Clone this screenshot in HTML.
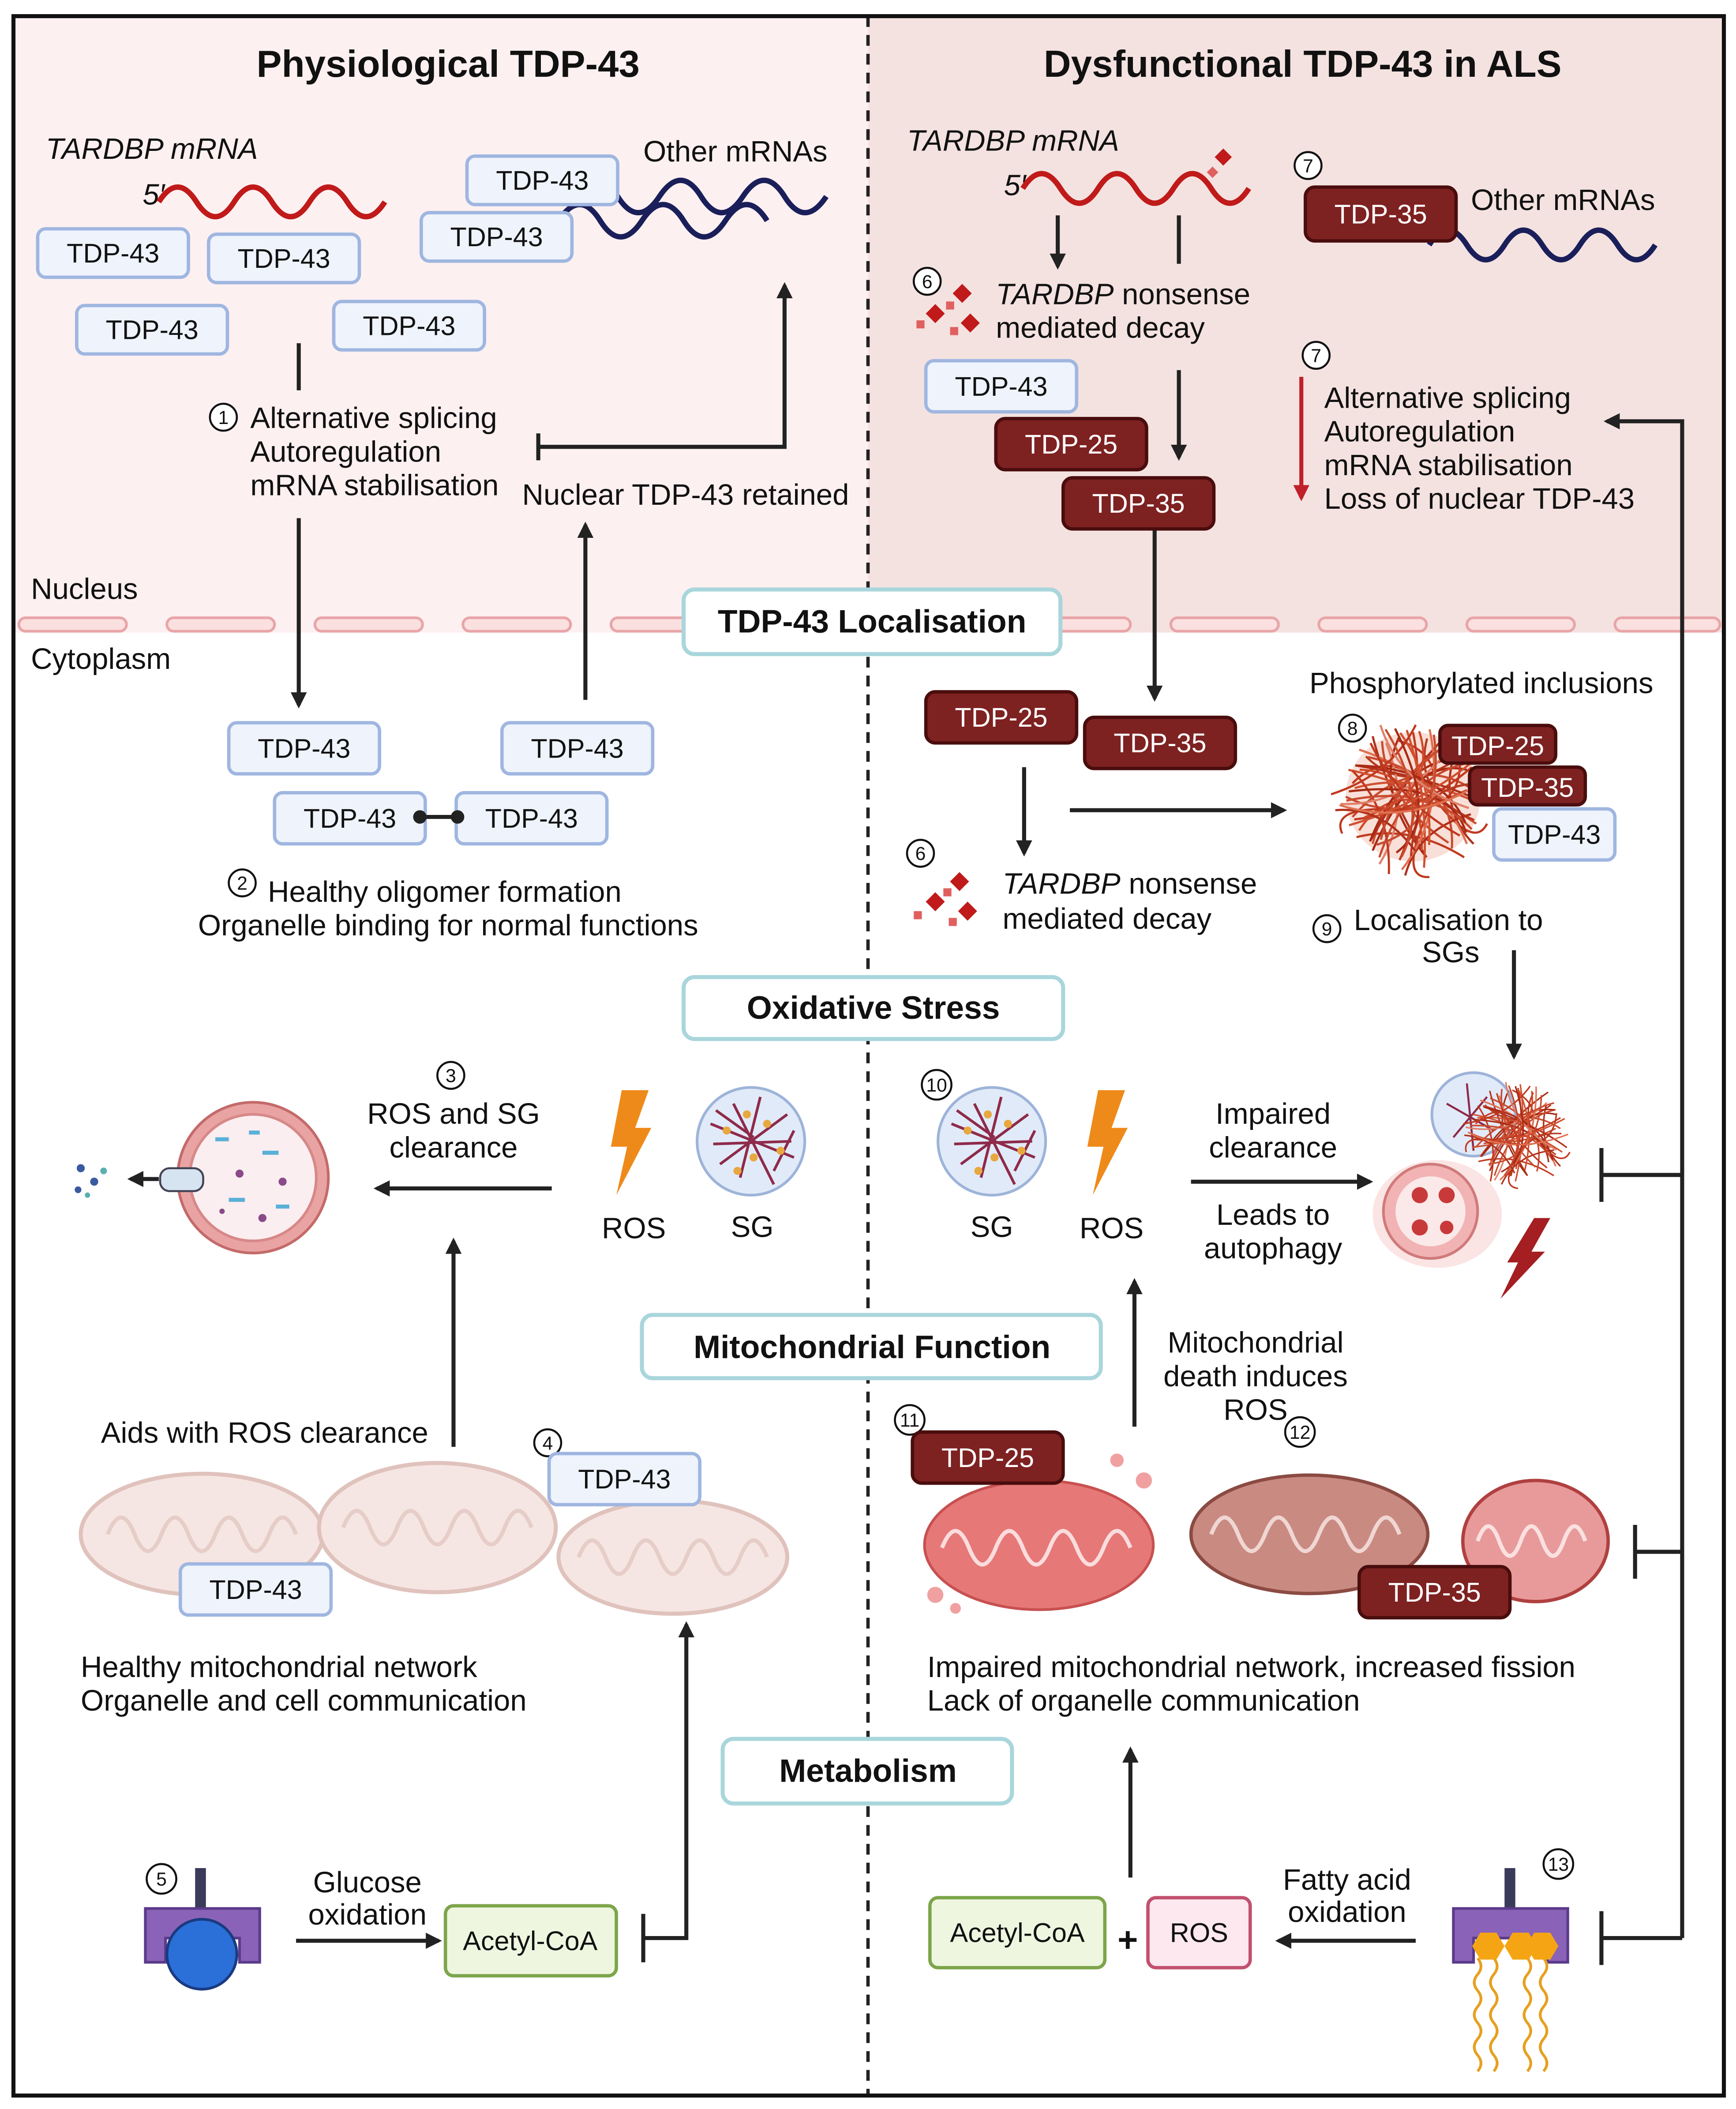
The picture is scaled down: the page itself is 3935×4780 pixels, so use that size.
<!DOCTYPE html>
<html><head><meta charset="utf-8"><style>
html,body{margin:0;padding:0;background:#fff}
svg{display:block}
text{font-family:"Liberation Sans",sans-serif;fill:#111}
.t{font-size:22px}
.h{font-size:28px;font-weight:bold}
.s{font-size:24px;font-weight:bold}
.lb{fill:#eef3fc;stroke:#9fb6e0;stroke-width:2.5}
.db{fill:#7e2121;stroke:#4a0d0d;stroke-width:2.5}
.wt{fill:#fff;font-size:20px}
.bt{font-size:20px}
.sec{fill:#fff;stroke:#a9d6dc;stroke-width:3}
.ln{stroke:#222;stroke-width:3;fill:none}
.num{fill:#fff;stroke:#111;stroke-width:1.5}
.nt{font-size:14px}
</style></head><body>
<svg width="3935" height="4780" viewBox="0 0 1290 1567" preserveAspectRatio="none" xmlns="http://www.w3.org/2000/svg">
<defs>
<marker id="a" viewBox="0 0 10 10" refX="8" refY="5" markerWidth="4" markerHeight="4" orient="auto-start-reverse"><path d="M0,0L10,5L0,10z" fill="#222"/></marker>
<marker id="ar" viewBox="0 0 10 10" refX="8" refY="5" markerWidth="4" markerHeight="4" orient="auto"><path d="M0,0L10,5L0,10z" fill="#c0202a"/></marker>
<g id="tangle" fill="none" stroke-width="1.6">
<path d="M-45,-10 q30,-30 60,10 t40,20" stroke="#c0391f"/><path d="M-40,25 q25,-40 75,-10" stroke="#d04a2a"/><path d="M-30,-45 q10,40 40,90" stroke="#b0301a"/><path d="M-50,0 q40,20 90,-5" stroke="#c84a2e"/><path d="M-10,-45 q-20,40 20,90" stroke="#a82a14"/><path d="M20,-35 q-40,30 -50,70" stroke="#d05030"/>
<path d="M-35,-30 q30,30 70,0" stroke="#b83a20"/><path d="M-42,30 q40,-10 80,15" stroke="#c0391f"/><path d="M-20,-40 q20,50 -5,90" stroke="#e0806a"/><path d="M-45,15 q45,-50 90,-20" stroke="#c84a2e"/><path d="M-30,40 q30,-70 70,-60" stroke="#a82a14"/><path d="M-48,-20 q50,10 95,40" stroke="#d05030"/><path d="M0,-48 q10,50 -10,95" stroke="#c0391f"/><path d="M30,-30 q-10,40 15,65" stroke="#b0301a"/><path d="M-40,-35 q60,20 80,70" stroke="#e07050"/><path d="M-25,45 q20,-60 65,-70" stroke="#c84a2e"/>
</g>
</defs>
<rect x="0" y="0" width="1290" height="1567" fill="#fff"/>
<rect x="10" y="12" width="635" height="458" fill="#fdf0f1"/>
<rect x="645" y="12" width="636" height="458" fill="#f4e2e0"/>
<g fill="#fbe0e0" stroke="#e8a5a8" stroke-width="2">
<rect x="14" y="459" width="80" height="10" rx="5"/><rect x="124" y="459" width="80" height="10" rx="5"/><rect x="234" y="459" width="80" height="10" rx="5"/><rect x="344" y="459" width="80" height="10" rx="5"/><rect x="454" y="459" width="80" height="10" rx="5"/>
<rect x="760" y="459" width="80" height="10" rx="5"/><rect x="870" y="459" width="80" height="10" rx="5"/><rect x="980" y="459" width="80" height="10" rx="5"/><rect x="1090" y="459" width="80" height="10" rx="5"/><rect x="1200" y="459" width="78" height="10" rx="5"/>
</g>
<line x1="645" y1="12" x2="645" y2="1557" stroke="#222" stroke-width="2.5" stroke-dasharray="8,6"/>
<rect x="10" y="12" width="1271" height="1545" fill="none" stroke="#111" stroke-width="3"/>

<text class="h" x="333" y="57" text-anchor="middle">Physiological TDP-43</text>
<text class="h" x="968" y="57" text-anchor="middle">Dysfunctional TDP-43 in ALS</text>

<text class="t" x="34" y="118" font-style="italic">TARDBP mRNA</text>
<text class="t" x="106" y="152" font-style="italic">5′</text>
<path d="M118,150 q14,-22 28,0 t28,0 t28,0 t28,0 t28,0 t28,0" stroke="#c01a1a" stroke-width="4" fill="none"/>
<path d="M428,146 q16,-24 31,0 t31,0 t31,0 t31,0 t31,0 t31,0" stroke="#1a1f5a" stroke-width="4" fill="none"/>
<path d="M415,164 q16,-24 31,0 t31,0 t31,0 t31,0 t31,0" stroke="#1a1f5a" stroke-width="4" fill="none"/>
<text class="t" x="478" y="120">Other mRNAs</text>
<rect class="lb" x="347" y="116" width="112" height="36" rx="6"/><text class="bt" x="403" y="141" text-anchor="middle">TDP-43</text>
<rect class="lb" x="313" y="158" width="112" height="36" rx="6"/><text class="bt" x="369" y="183" text-anchor="middle">TDP-43</text>
<rect class="lb" x="28" y="170" width="112" height="36" rx="6"/><text class="bt" x="84" y="195" text-anchor="middle">TDP-43</text>
<rect class="lb" x="155" y="174" width="112" height="36" rx="6"/><text class="bt" x="211" y="199" text-anchor="middle">TDP-43</text>
<rect class="lb" x="57" y="227" width="112" height="36" rx="6"/><text class="bt" x="113" y="252" text-anchor="middle">TDP-43</text>
<rect class="lb" x="248" y="224" width="112" height="36" rx="6"/><text class="bt" x="304" y="249" text-anchor="middle">TDP-43</text>
<line class="ln" x1="222" y1="255" x2="222" y2="290"/>
<circle class="num" cx="166" cy="310" r="10"/><text class="nt" x="166" y="315" text-anchor="middle">1</text>
<text class="t" x="186" y="318">Alternative splicing</text>
<text class="t" x="186" y="343">Autoregulation</text>
<text class="t" x="186" y="368">mRNA stabilisation</text>
<path class="ln" d="M400,332 H583 V212" marker-end="url(#a)"/>
<line class="ln" x1="400" y1="322" x2="400" y2="342"/>
<text class="t" x="388" y="375">Nuclear TDP-43 retained</text>
<line class="ln" x1="435" y1="520" x2="435" y2="390" marker-end="url(#a)"/>
<line class="ln" x1="222" y1="385" x2="222" y2="524" marker-end="url(#a)"/>
<text class="t" x="23" y="445">Nucleus</text>
<text class="t" x="23" y="497">Cytoplasm</text>
<rect class="sec" x="508" y="438" width="280" height="48" rx="8"/><text class="s" x="648" y="470" text-anchor="middle">TDP-43 Localisation</text>

<rect class="lb" x="170" y="537" width="112" height="38" rx="6"/><text class="bt" x="226" y="563" text-anchor="middle">TDP-43</text>
<rect class="lb" x="373" y="537" width="112" height="38" rx="6"/><text class="bt" x="429" y="563" text-anchor="middle">TDP-43</text>
<rect class="lb" x="204" y="589" width="112" height="38" rx="6"/><text class="bt" x="260" y="615" text-anchor="middle">TDP-43</text>
<rect class="lb" x="339" y="589" width="112" height="38" rx="6"/><text class="bt" x="395" y="615" text-anchor="middle">TDP-43</text>
<line class="ln" x1="312" y1="607" x2="340" y2="607"/><circle cx="312" cy="607" r="5" fill="#222"/><circle cx="340" cy="607" r="5" fill="#222"/>
<circle class="num" cx="180" cy="656" r="10"/><text class="nt" x="180" y="661" text-anchor="middle">2</text>
<text class="t" x="199" y="670">Healthy oligomer formation</text>
<text class="t" x="333" y="695" text-anchor="middle">Organelle binding for normal functions</text>

<text class="t" x="674" y="112" font-style="italic">TARDBP mRNA</text>
<text class="t" x="746" y="145" font-style="italic">5′</text>
<path d="M760,140 q14,-22 28,0 t28,0 t28,0 t28,0 t28,0 t28,0" stroke="#c01a1a" stroke-width="4" fill="none"/>
<rect x="905" y="112" width="9" height="9" fill="#c01a1a" transform="rotate(45 909 116)"/><rect x="898" y="125" width="6" height="6" fill="#e06060" transform="rotate(45 901 128)"/>
<line class="ln" x1="786" y1="160" x2="786" y2="198" marker-end="url(#a)"/>
<line class="ln" x1="876" y1="160" x2="876" y2="196"/>
<circle class="num" cx="689" cy="209" r="10"/><text class="nt" x="689" y="214" text-anchor="middle">6</text>
<g fill="#c01a1a"><rect x="710" y="213" width="10" height="10" transform="rotate(45 715 218)"/><rect x="690" y="228" width="10" height="10" transform="rotate(45 695 233)"/><rect x="716" y="235" width="10" height="10" transform="rotate(45 721 240)"/><rect x="681" y="238" width="6" height="6" fill="#e06060"/><rect x="703" y="224" width="6" height="6" fill="#e06060"/><rect x="706" y="243" width="6" height="6" fill="#e06060"/></g>
<text class="t" x="740" y="226"><tspan font-style="italic">TARDBP</tspan> nonsense</text>
<text class="t" x="740" y="251">mediated decay</text>
<circle class="num" cx="972" cy="123" r="10"/><text class="nt" x="972" y="128" text-anchor="middle">7</text>
<path d="M1062,182 q14,-22 28,0 t28,0 t28,0 t28,0 t28,0 t28,0" stroke="#1a1f5a" stroke-width="4" fill="none"/>
<rect class="db" x="970" y="139" width="112" height="40" rx="7"/><text class="wt" x="1026" y="166" text-anchor="middle">TDP-35</text>
<text class="t" x="1093" y="156">Other mRNAs</text>
<rect class="lb" x="688" y="268" width="112" height="38" rx="6"/><text class="bt" x="744" y="294" text-anchor="middle">TDP-43</text>
<rect class="db" x="740" y="311" width="112" height="38" rx="7"/><text class="wt" x="796" y="337" text-anchor="middle">TDP-25</text>
<rect class="db" x="790" y="355" width="112" height="38" rx="7"/><text class="wt" x="846" y="381" text-anchor="middle">TDP-35</text>
<line class="ln" x1="876" y1="275" x2="876" y2="340" marker-end="url(#a)"/>
<line class="ln" x1="858" y1="394" x2="858" y2="519" marker-end="url(#a)"/>
<circle class="num" cx="978" cy="264" r="10"/><text class="nt" x="978" y="269" text-anchor="middle">7</text>
<line x1="967" y1="280" x2="967" y2="370" stroke="#c0202a" stroke-width="3" marker-end="url(#ar)"/>
<text class="t" x="984" y="303">Alternative splicing</text>
<text class="t" x="984" y="328">Autoregulation</text>
<text class="t" x="984" y="353">mRNA stabilisation</text>
<text class="t" x="984" y="378">Loss of nuclear TDP-43</text>
<path class="ln" d="M1250,1440 V313 H1194" marker-end="url(#a)"/>
<line class="ln" x1="1250" y1="873" x2="1190" y2="873"/><line class="ln" x1="1190" y1="853" x2="1190" y2="893"/>
<line class="ln" x1="1250" y1="1153" x2="1215" y2="1153"/><line class="ln" x1="1215" y1="1133" x2="1215" y2="1173"/>
<line class="ln" x1="1250" y1="1440" x2="1190" y2="1440"/><line class="ln" x1="1190" y1="1420" x2="1190" y2="1460"/>

<rect class="db" x="688" y="514" width="112" height="38" rx="7"/><text class="wt" x="744" y="540" text-anchor="middle">TDP-25</text>
<rect class="db" x="806" y="533" width="112" height="38" rx="7"/><text class="wt" x="862" y="559" text-anchor="middle">TDP-35</text>
<line class="ln" x1="761" y1="570" x2="761" y2="634" marker-end="url(#a)"/>
<line class="ln" x1="795" y1="602" x2="954" y2="602" marker-end="url(#a)"/>
<circle class="num" cx="684" cy="634" r="10"/><text class="nt" x="684" y="639" text-anchor="middle">6</text>
<g fill="#c01a1a"><rect x="708" y="650" width="10" height="10" transform="rotate(45 713 655)"/><rect x="690" y="665" width="10" height="10" transform="rotate(45 695 670)"/><rect x="714" y="672" width="10" height="10" transform="rotate(45 719 677)"/><rect x="679" y="677" width="6" height="6" fill="#e06060"/><rect x="701" y="660" width="6" height="6" fill="#e06060"/><rect x="705" y="682" width="6" height="6" fill="#e06060"/></g>
<text class="t" x="745" y="664"><tspan font-style="italic">TARDBP</tspan> nonsense</text>
<text class="t" x="745" y="690">mediated decay</text>
<text class="t" x="973" y="515">Phosphorylated inclusions</text>
<ellipse cx="1050" cy="592" rx="50" ry="48" fill="#f3c9bc" opacity="0.6"/>
<use href="#tangle" x="1050" y="592"/>
<use href="#tangle" x="1052" y="594" transform="rotate(60 1052 594)"/>
<use href="#tangle" x="1048" y="590" transform="rotate(130 1048 590)"/>
<circle class="num" cx="1005" cy="541" r="10"/><text class="nt" x="1005" y="546" text-anchor="middle">8</text>
<rect class="db" x="1070" y="539" width="86" height="28" rx="6"/><text class="wt" x="1113" y="561" text-anchor="middle">TDP-25</text>
<rect class="db" x="1092" y="570" width="86" height="28" rx="6"/><text class="wt" x="1135" y="592" text-anchor="middle">TDP-35</text>
<rect class="lb" x="1110" y="601" width="90" height="38" rx="6"/><text class="bt" x="1155" y="627" text-anchor="middle">TDP-43</text>
<circle class="num" cx="986" cy="690" r="10"/><text class="nt" x="986" y="695" text-anchor="middle">9</text>
<text class="t" x="1006" y="691">Localisation to</text>
<text class="t" x="1078" y="715" text-anchor="middle">SGs</text>
<line class="ln" x1="1125" y1="706" x2="1125" y2="785" marker-end="url(#a)"/>

<rect class="sec" x="508" y="726" width="282" height="46" rx="8"/><text class="s" x="649" y="757" text-anchor="middle">Oxidative Stress</text>

<circle class="num" cx="335" cy="799" r="10"/><text class="nt" x="335" y="804" text-anchor="middle">3</text>
<text class="t" x="337" y="835" text-anchor="middle">ROS and SG</text>
<text class="t" x="337" y="860" text-anchor="middle">clearance</text>
<line class="ln" x1="410" y1="883" x2="280" y2="883" marker-end="url(#a)"/>
<path d="M462,810 L482,810 L472,838 L484,838 L458,888 L466,852 L454,852 Z" fill="#ee8a1a"/>
<text class="t" x="471" y="920" text-anchor="middle">ROS</text>
<circle cx="558" cy="848" r="40" fill="#e1eaf8" stroke="#9db3d9" stroke-width="2"/>
<g stroke="#8e2a4a" stroke-width="2" fill="none"><path d="M528,835 L590,860 M535,865 L585,828 M545,820 L575,880 M530,850 L588,848 M550,875 L565,815 M532,825 L560,845 M575,870 L590,840"/></g>
<g fill="#e8a840"><circle cx="540" cy="840" r="3"/><circle cx="570" cy="835" r="3"/><circle cx="560" cy="860" r="3"/><circle cx="548" cy="870" r="3"/><circle cx="580" cy="855" r="3"/><circle cx="555" cy="828" r="3"/></g>
<text class="t" x="559" y="919" text-anchor="middle">SG</text>
<circle cx="188" cy="875" r="56" fill="#e9a3a3" stroke="#c46a6a" stroke-width="2"/>
<circle cx="188" cy="875" r="47" fill="#fbeef0" stroke="#d78888" stroke-width="2"/>
<g fill="#5ab0d8"><rect x="160" y="845" width="10" height="3"/><rect x="195" y="855" width="12" height="3"/><rect x="170" y="890" width="12" height="3"/><rect x="205" y="895" width="10" height="3"/><rect x="185" y="840" width="8" height="3"/></g>
<g fill="#8a4a8a"><circle cx="178" cy="872" r="3"/><circle cx="210" cy="878" r="3"/><circle cx="195" cy="905" r="3"/><circle cx="165" cy="900" r="2"/></g>
<rect x="119" y="868" width="32" height="17" rx="7" fill="#d6e4f2" stroke="#445" stroke-width="1.5"/>
<line class="ln" x1="118" y1="876" x2="97" y2="876" marker-end="url(#a)"/>
<g fill="#3a5aa0"><circle cx="60" cy="868" r="3"/><circle cx="70" cy="878" r="3"/><circle cx="58" cy="884" r="2.5"/><circle cx="77" cy="870" r="2.5" fill="#5ab0b0"/><circle cx="65" cy="888" r="2" fill="#5ab0b0"/></g>
<line class="ln" x1="337" y1="1075" x2="337" y2="922" marker-end="url(#a)"/>

<circle class="num" cx="696" cy="806" r="11"/><text class="nt" x="696" y="811" text-anchor="middle">10</text>
<circle cx="737" cy="848" r="40" fill="#e1eaf8" stroke="#9db3d9" stroke-width="2"/>
<g stroke="#8e2a4a" stroke-width="2" fill="none"><path d="M707,835 L769,860 M714,865 L764,828 M724,820 L754,880 M709,850 L767,848 M729,875 L744,815 M711,825 L739,845 M754,870 L769,840"/></g>
<g fill="#e8a840"><circle cx="719" cy="840" r="3"/><circle cx="749" cy="835" r="3"/><circle cx="739" cy="860" r="3"/><circle cx="727" cy="870" r="3"/><circle cx="759" cy="855" r="3"/><circle cx="734" cy="828" r="3"/></g>
<text class="t" x="737" y="919" text-anchor="middle">SG</text>
<path d="M816,810 L836,810 L826,838 L838,838 L812,888 L820,852 L808,852 Z" fill="#ee8a1a"/>
<text class="t" x="826" y="920" text-anchor="middle">ROS</text>
<text class="t" x="946" y="835" text-anchor="middle">Impaired</text>
<text class="t" x="946" y="860" text-anchor="middle">clearance</text>
<line class="ln" x1="885" y1="878" x2="1018" y2="878" marker-end="url(#a)"/>
<text class="t" x="946" y="910" text-anchor="middle">Leads to</text>
<text class="t" x="946" y="935" text-anchor="middle">autophagy</text>
<circle cx="1095" cy="828" r="31" fill="#e1eaf8" stroke="#9db3d9" stroke-width="2"/>
<g stroke="#8e2a4a" stroke-width="1.5" fill="none"><path d="M1075,820 L1110,840 M1080,845 L1105,815 M1090,805 L1095,855"/></g>
<g transform="translate(1128 842) scale(0.7)"><use href="#tangle"/><use href="#tangle" transform="rotate(70)"/><use href="#tangle" transform="rotate(140)"/></g>
<ellipse cx="1068" cy="902" rx="48" ry="40" fill="#fbe4e4"/>
<circle cx="1063" cy="900" r="35" fill="#f1b3b3" stroke="#d07a7a" stroke-width="2"/>
<circle cx="1063" cy="900" r="26" fill="#fbe8e8"/>
<g fill="#c83a3a"><circle cx="1055" cy="888" r="6"/><circle cx="1075" cy="888" r="6"/><circle cx="1055" cy="912" r="6"/><circle cx="1075" cy="912" r="5"/></g>
<path d="M1140,905 L1152,905 L1138,930 L1148,930 L1115,965 L1128,938 L1120,938 Z" fill="#a51e22"/>
<line class="ln" x1="843" y1="1060" x2="843" y2="952" marker-end="url(#a)"/>

<rect class="sec" x="477" y="977" width="341" height="47" rx="8"/><text class="s" x="648" y="1009" text-anchor="middle">Mitochondrial Function</text>

<text class="t" x="75" y="1072">Aids with ROS clearance</text>
<g fill="#f6e6e3" stroke="#e0c2bc" stroke-width="3">
<ellipse cx="500" cy="1157" rx="85" ry="42"/>
<ellipse cx="150" cy="1140" rx="90" ry="45"/>
<ellipse cx="325" cy="1135" rx="88" ry="48"/>
</g>
<g stroke="#e6cdc8" stroke-width="3" fill="none">
<path d="M80,1140 q10,-25 20,0 t20,0 t20,0 t20,0 t20,0 t20,0 t20,0"/>
<path d="M255,1135 q10,-25 20,0 t20,0 t20,0 t20,0 t20,0 t20,0 t20,0"/>
<path d="M430,1157 q10,-25 20,0 t20,0 t20,0 t20,0 t20,0 t20,0 t20,0"/>
</g>
<circle class="num" cx="407" cy="1072" r="10"/><text class="nt" x="407" y="1077" text-anchor="middle">4</text>
<rect class="lb" x="408" y="1080" width="112" height="38" rx="6"/><text class="bt" x="464" y="1106" text-anchor="middle">TDP-43</text>
<rect class="lb" x="134" y="1162" width="112" height="38" rx="6"/><text class="bt" x="190" y="1188" text-anchor="middle">TDP-43</text>
<text class="t" x="60" y="1246">Healthy mitochondrial network</text>
<text class="t" x="60" y="1271">Organelle and cell communication</text>
<path class="ln" d="M478,1440 H510 V1207" marker-end="url(#a)"/>
<line class="ln" x1="478" y1="1422" x2="478" y2="1458"/>

<ellipse cx="772" cy="1148" rx="85" ry="48" fill="#e67878" stroke="#c85050" stroke-width="2"/>
<path d="M700,1150 q10,-25 20,0 t20,0 t20,0 t20,0 t20,0 t20,0 t20,0" stroke="#fbdcdc" stroke-width="3" fill="none"/>
<g fill="#f0a0a0"><circle cx="695" cy="1185" r="6"/><circle cx="850" cy="1100" r="6"/><circle cx="830" cy="1085" r="5"/><circle cx="710" cy="1195" r="4"/></g>
<circle class="num" cx="676" cy="1055" r="11"/><text class="nt" x="676" y="1060" text-anchor="middle">11</text>
<rect class="db" x="678" y="1064" width="112" height="38" rx="7"/><text class="wt" x="734" y="1090" text-anchor="middle">TDP-25</text>
<text class="t" x="933" y="1005" text-anchor="middle">Mitochondrial</text>
<text class="t" x="933" y="1030" text-anchor="middle">death induces</text>
<text class="t" x="933" y="1055" text-anchor="middle">ROS</text>
<circle class="num" cx="966" cy="1064" r="11"/><text class="nt" x="966" y="1069" text-anchor="middle">12</text>
<ellipse cx="973" cy="1140" rx="88" ry="44" fill="#c98a82" stroke="#8b4a42" stroke-width="2.5"/>
<path d="M900,1140 q10,-25 20,0 t20,0 t20,0 t20,0 t20,0 t20,0 t20,0" stroke="#f0d6d2" stroke-width="3" fill="none"/>
<ellipse cx="1141" cy="1145" rx="54" ry="45" fill="#e89a9a" stroke="#b04040" stroke-width="2.5"/>
<path d="M1098,1145 q8,-22 16,0 t16,0 t16,0 t16,0 t16,0" stroke="#fbe0e0" stroke-width="3" fill="none"/>
<rect class="db" x="1010" y="1164" width="112" height="38" rx="7"/><text class="wt" x="1066" y="1190" text-anchor="middle">TDP-35</text>
<text class="t" x="689" y="1246">Impaired mitochondrial network, increased fission</text>
<text class="t" x="689" y="1271">Lack of organelle communication</text>
<line class="ln" x1="840" y1="1395" x2="840" y2="1300" marker-end="url(#a)"/>

<rect class="sec" x="537" y="1292" width="215" height="48" rx="8"/><text class="s" x="645" y="1324" text-anchor="middle">Metabolism</text>

<circle class="num" cx="120" cy="1396" r="11"/><text class="nt" x="120" y="1401" text-anchor="middle">5</text>
<rect x="145" y="1388" width="8" height="32" fill="#3a3a5a"/>
<path d="M108,1418 H193 V1458 H178 V1440 H123 V1458 H108 Z" fill="#8a63b8" stroke="#5a3a8a" stroke-width="2"/>
<circle cx="150" cy="1452" r="26" fill="#2b6fd8" stroke="#1a3a80" stroke-width="2"/>
<text class="t" x="273" y="1406" text-anchor="middle">Glucose</text>
<text class="t" x="273" y="1430" text-anchor="middle">oxidation</text>
<line class="ln" x1="220" y1="1442" x2="326" y2="1442" marker-end="url(#a)"/>
<rect x="331" y="1416" width="127" height="52" rx="6" fill="#eef6e0" stroke="#7da54a" stroke-width="2.5"/><text class="bt" x="394" y="1449" text-anchor="middle">Acetyl-CoA</text>

<rect x="691" y="1410" width="130" height="52" rx="6" fill="#eef6e0" stroke="#7da54a" stroke-width="2.5"/><text class="bt" x="756" y="1443" text-anchor="middle">Acetyl-CoA</text>
<text x="838" y="1450" text-anchor="middle" font-size="26" font-weight="bold">+</text>
<rect x="853" y="1410" width="76" height="52" rx="6" fill="#fce8ee" stroke="#c2506f" stroke-width="2.5"/><text class="bt" x="891" y="1443" text-anchor="middle">ROS</text>
<line class="ln" x1="1052" y1="1442" x2="950" y2="1442" marker-end="url(#a)"/>
<text class="t" x="1001" y="1404" text-anchor="middle">Fatty acid</text>
<text class="t" x="1001" y="1428" text-anchor="middle">oxidation</text>
<circle class="num" cx="1158" cy="1385" r="11"/><text class="nt" x="1158" y="1390" text-anchor="middle">13</text>
<rect x="1118" y="1388" width="8" height="32" fill="#3a3a5a"/>
<path d="M1080,1418 H1165 V1458 H1150 V1440 H1095 V1458 H1080 Z" fill="#8a63b8" stroke="#5a3a8a" stroke-width="2"/>
<g stroke="#e6a020" stroke-width="2" fill="none">
<path d="M1098,1455 q5,6 0,12 t0,12 t0,12 t0,12 t0,12 t0,12 t0,12"/>
<path d="M1110,1455 q5,6 0,12 t0,12 t0,12 t0,12 t0,12 t0,12 t0,12"/>
<path d="M1135,1455 q5,6 0,12 t0,12 t0,12 t0,12 t0,12 t0,12 t0,12"/>
<path d="M1147,1455 q5,6 0,12 t0,12 t0,12 t0,12 t0,12 t0,12 t0,12"/>
</g>
<polygon points="1094,1446 1100,1436 1112,1436 1118,1446 1112,1456 1100,1456" fill="#f5a514"/>
<polygon points="1118,1446 1124,1436 1136,1436 1142,1446 1136,1456 1124,1456" fill="#f5a514"/>
<polygon points="1134,1446 1140,1436 1152,1436 1158,1446 1152,1456 1140,1456" fill="#f5a514"/>
</svg>
</body></html>
